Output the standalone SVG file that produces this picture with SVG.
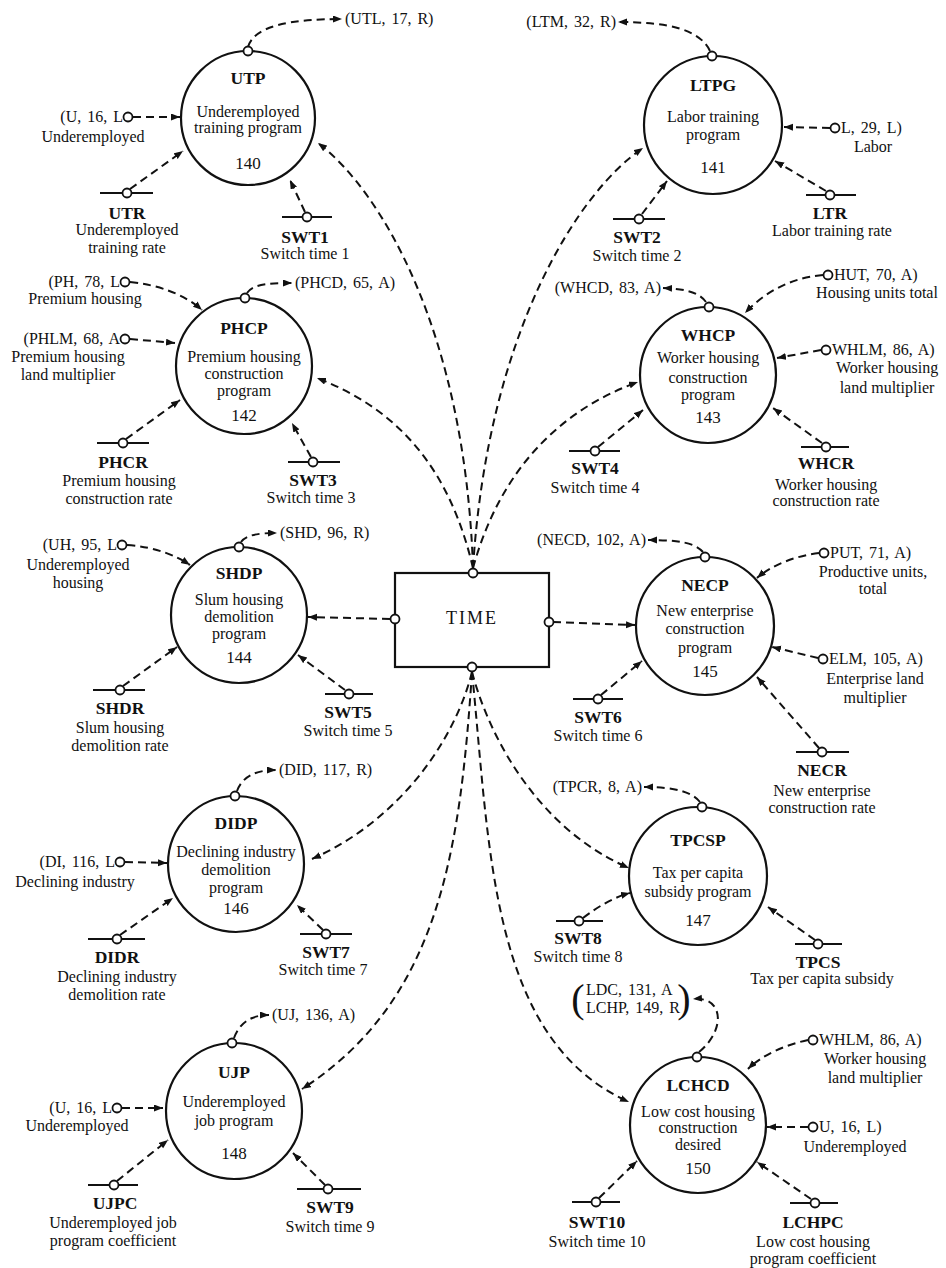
<svg xmlns="http://www.w3.org/2000/svg" width="946" height="1268" viewBox="0 0 946 1268">
<style>
.c{fill:#fff;stroke:#111;stroke-width:2.2}
.p{fill:#fff;stroke:#111;stroke-width:1.8}
.bar{stroke:#111;stroke-width:2}
.d{fill:none;stroke:#111;stroke-width:2;stroke-dasharray:8 5;marker-end:url(#ah)}
.dn{fill:none;stroke:#111;stroke-width:2;stroke-dasharray:8 5}
text{font-family:"Liberation Serif","Times New Roman",serif;fill:#111;text-anchor:middle}
.nm{font-size:17.5px;font-weight:bold}
.ds{font-size:16px}
.num{font-size:17px}
.lb{font-size:16px;word-spacing:2px}
.s{text-anchor:start}
.e{text-anchor:end}
</style>
<defs>
<marker id="ah" markerWidth="10" markerHeight="8" refX="9" refY="3.5" orient="auto" markerUnits="userSpaceOnUse">
<path d="M0,0 L9,3.5 L0,7 z" fill="#111"/>
</marker>
</defs>
<rect width="946" height="1268" fill="#fff"/>

<g id="connectors">
<!-- UTP -->
<path class="d" d="M248,47 C254,26 290,19 342,19"/>
<path class="d" d="M133,117 L180,117"/>
<path class="d" d="M130,189 L183,151"/>
<path class="d" d="M305,212 L290,180"/>
<path class="d" d="M473,568 C465,330 380,190 318,143"/>
<!-- LTPG -->
<path class="d" d="M710,51 C700,30 670,22 618,22"/>
<path class="d" d="M830,128 L784,127"/>
<path class="d" d="M826,191 L775,161"/>
<path class="d" d="M642,214 L667,181"/>
<path class="d" d="M473,568 C488,330 580,190 643,148"/>
<!-- PHCP -->
<path class="d" d="M247,293 C252,285 265,283 292,283"/>
<path class="d" d="M130,282 C160,285 185,295 202,310"/>
<path class="d" d="M130,339 L175,343"/>
<path class="d" d="M126,439 L180,400"/>
<path class="d" d="M311,457 L292,423"/>
<path class="d" d="M473,568 C450,470 400,410 317,378"/>
<!-- WHCP -->
<path class="d" d="M706,302 C700,294 690,289 663,288"/>
<path class="d" d="M823,275 C790,278 765,292 745,313"/>
<path class="d" d="M821,350 L777,358"/>
<path class="d" d="M822,443 L773,408"/>
<path class="d" d="M598,447 L643,410"/>
<path class="d" d="M473,568 C500,470 560,410 638,382"/>
<!-- SHDP -->
<path class="d" d="M241,542 C246,535 258,533 277,533"/>
<path class="d" d="M127,545 C155,547 175,555 190,565"/>
<path class="d" d="M390,619 L308,617"/>
<path class="d" d="M123,686 L177,647"/>
<path class="d" d="M345,690 L298,655"/>
<!-- NECP -->
<path class="d" d="M703,552 C695,543 680,540 648,540"/>
<path class="d" d="M553,622 L635,625"/>
<path class="d" d="M819,553 C795,556 772,565 757,578"/>
<path class="d" d="M818,658 L772,647"/>
<path class="d" d="M819,748 L757,677"/>
<path class="d" d="M601,695 L642,661"/>
<!-- DIDP -->
<path class="d" d="M237,791 C243,775 258,770 276,770"/>
<path class="d" d="M125,862 L167,863"/>
<path class="d" d="M472,672 C455,740 400,820 312,859"/>
<path class="d" d="M120,935 L173,898"/>
<path class="d" d="M323,930 L297,905"/>
<!-- TPCSP -->
<path class="d" d="M700,802 C692,792 675,787 644,787"/>
<path class="d" d="M472,672 C490,740 540,830 629,868"/>
<path class="d" d="M583,918 C600,905 615,897 630,893"/>
<path class="d" d="M815,940 L768,907"/>
<!-- UJP -->
<path class="d" d="M234,1038 C240,1022 252,1015 269,1015"/>
<path class="d" d="M122,1108 L163,1108"/>
<path class="d" d="M472,672 C460,850 440,1000 302,1089"/>
<path class="d" d="M117,1181 L168,1140"/>
<path class="d" d="M325,1185 L293,1153"/>
<!-- LCHCD -->
<path class="d" d="M699,1052 C726,1030 724,996 693,999"/>
<path class="d" d="M808,1040 C785,1045 762,1055 748,1069"/>
<path class="d" d="M472,672 C490,850 490,1040 629,1102"/>
<path class="d" d="M808,1127 L767,1127"/>
<path class="d" d="M599,1198 L637,1161"/>
<path class="d" d="M811,1199 L757,1162"/>
</g>

<g id="TIME">
<rect x="395" y="573" width="154" height="94" fill="#fff" stroke="#111" stroke-width="2.2"/>
<text x="472" y="624" style="font-size:18px;letter-spacing:2px">TIME</text>
<circle class="p" cx="473" cy="573" r="4.5"/>
<circle class="p" cx="472" cy="667" r="4.5"/>
<circle class="p" cx="395" cy="619" r="4.5"/>
<circle class="p" cx="549" cy="622" r="4.5"/>
</g>

<g id="UTP">
<circle class="c" cx="248" cy="118" r="67"/>
<circle class="p" cx="248" cy="51" r="4.5"/>
<text class="nm" x="248" y="84">UTP</text>
<text class="ds" x="248" y="117">Underemployed</text>
<text class="ds" x="248" y="133">training program</text>
<text class="num" x="248" y="169">140</text>
</g>
<g id="UTP-inputs">
<text class="lb s" x="345" y="24">(UTL, 17, R)</text>
<circle class="p" cx="128" cy="117" r="4.5"/>
<text class="lb e" x="123" y="122">(U, 16, L</text>
<text class="ds" x="93" y="142">Underemployed</text>
</g>
<g id="UTR">
<line class="bar" x1="100" y1="193" x2="153" y2="193"/>
<circle class="p" cx="127" cy="193" r="4.5"/>
<text class="nm" x="127" y="219">UTR</text>
<text class="ds" x="127" y="235">Underemployed</text>
<text class="ds" x="127" y="253">training rate</text>
</g>
<g id="SWT1">
<line class="bar" x1="282" y1="217" x2="332" y2="217"/>
<circle class="p" cx="307" cy="217" r="4.5"/>
<text class="nm" x="305" y="243">SWT1</text>
<text class="ds" x="305" y="259">Switch time 1</text>
</g>

<g id="LTPG">
<circle class="c" cx="713" cy="125" r="69"/>
<circle class="p" cx="712" cy="56" r="4.5"/>
<text class="nm" x="713" y="91">LTPG</text>
<text class="ds" x="713" y="122">Labor training</text>
<text class="ds" x="713" y="140">program</text>
<text class="num" x="713" y="173">141</text>
</g>
<g id="LTPG-inputs">
<text class="lb e" x="616" y="27">(LTM, 32, R)</text>
<circle class="p" cx="835" cy="128" r="4.5"/>
<text class="lb s" x="841" y="133">L, 29, L)</text>
<text class="ds" x="873" y="152">Labor</text>
</g>
<g id="LTR">
<line class="bar" x1="806" y1="195" x2="856" y2="195"/>
<circle class="p" cx="830" cy="195" r="4.5"/>
<text class="nm" x="830" y="219">LTR</text>
<text class="ds" x="832" y="236">Labor training rate</text>
</g>
<g id="SWT2">
<line class="bar" x1="613" y1="219" x2="665" y2="219"/>
<circle class="p" cx="639" cy="219" r="4.5"/>
<text class="nm" x="637" y="243">SWT2</text>
<text class="ds" x="637" y="261">Switch time 2</text>
</g>

<g id="PHCP">
<circle class="c" cx="244" cy="366" r="68"/>
<circle class="p" cx="245" cy="298" r="4.5"/>
<text class="nm" x="244" y="334">PHCP</text>
<text class="ds" x="244" y="362">Premium housing</text>
<text class="ds" x="244" y="379">construction</text>
<text class="ds" x="244" y="396">program</text>
<text class="num" x="244" y="421">142</text>
</g>
<g id="PHCP-inputs">
<text class="lb s" x="295" y="288">(PHCD, 65, A)</text>
<circle class="p" cx="125" cy="282" r="4.5"/>
<text class="lb e" x="120" y="287">(PH, 78, L</text>
<text class="ds" x="85" y="304">Premium housing</text>
<circle class="p" cx="125" cy="339" r="4.5"/>
<text class="lb e" x="120" y="344">(PHLM, 68, A</text>
<text class="ds" x="68" y="362">Premium housing</text>
<text class="ds" x="68" y="380">land multiplier</text>
</g>
<g id="PHCR">
<line class="bar" x1="97" y1="443" x2="149" y2="443"/>
<circle class="p" cx="123" cy="443" r="4.5"/>
<text class="nm" x="123" y="468">PHCR</text>
<text class="ds" x="119" y="486">Premium housing</text>
<text class="ds" x="119" y="504">construction rate</text>
</g>
<g id="SWT3">
<line class="bar" x1="288" y1="462" x2="340" y2="462"/>
<circle class="p" cx="313" cy="462" r="4.5"/>
<text class="nm" x="313" y="486">SWT3</text>
<text class="ds" x="311" y="503">Switch time 3</text>
</g>

<g id="WHCP">
<circle class="c" cx="708" cy="375" r="68"/>
<circle class="p" cx="709" cy="307" r="4.5"/>
<text class="nm" x="708" y="341">WHCP</text>
<text class="ds" x="708" y="363">Worker housing</text>
<text class="ds" x="708" y="383">construction</text>
<text class="ds" x="708" y="400">program</text>
<text class="num" x="708" y="423">143</text>
</g>
<g id="WHCP-inputs">
<text class="lb e" x="661" y="293">(WHCD, 83, A)</text>
<circle class="p" cx="828" cy="275" r="4.5"/>
<text class="lb s" x="834" y="280">HUT, 70, A)</text>
<text class="ds" x="877" y="298">Housing units total</text>
<circle class="p" cx="826" cy="350" r="4.5"/>
<text class="lb s" x="832" y="355">WHLM, 86, A)</text>
<text class="ds" x="887" y="373">Worker housing</text>
<text class="ds" x="887" y="393">land multiplier</text>
</g>
<g id="WHCR">
<line class="bar" x1="801" y1="447" x2="849" y2="447"/>
<circle class="p" cx="826" cy="447" r="4.5"/>
<text class="nm" x="826" y="469">WHCR</text>
<text class="ds" x="826" y="490">Worker housing</text>
<text class="ds" x="826" y="506">construction rate</text>
</g>
<g id="SWT4">
<line class="bar" x1="569" y1="451" x2="620" y2="451"/>
<circle class="p" cx="595" cy="451" r="4.5"/>
<text class="nm" x="595" y="474">SWT4</text>
<text class="ds" x="595" y="493">Switch time 4</text>
</g>

<g id="SHDP">
<circle class="c" cx="239" cy="615" r="68"/>
<circle class="p" cx="239" cy="547" r="4.5"/>
<text class="nm" x="239" y="579">SHDP</text>
<text class="ds" x="239" y="605">Slum housing</text>
<text class="ds" x="239" y="622">demolition</text>
<text class="ds" x="239" y="639">program</text>
<text class="num" x="239" y="663">144</text>
</g>
<g id="SHDP-inputs">
<text class="lb s" x="280" y="538">(SHD, 96, R)</text>
<circle class="p" cx="122" cy="545" r="4.5"/>
<text class="lb e" x="117" y="550">(UH, 95, L</text>
<text class="ds" x="78" y="570">Underemployed</text>
<text class="ds" x="78" y="588">housing</text>
</g>
<g id="SHDR">
<line class="bar" x1="93" y1="690" x2="145" y2="690"/>
<circle class="p" cx="120" cy="690" r="4.5"/>
<text class="nm" x="120" y="714">SHDR</text>
<text class="ds" x="120" y="733">Slum housing</text>
<text class="ds" x="120" y="751">demolition rate</text>
</g>
<g id="SWT5">
<line class="bar" x1="325" y1="694" x2="373" y2="694"/>
<circle class="p" cx="349" cy="694" r="4.5"/>
<text class="nm" x="348" y="718">SWT5</text>
<text class="ds" x="348" y="736">Switch time 5</text>
</g>

<g id="NECP">
<circle class="c" cx="705" cy="626" r="69"/>
<circle class="p" cx="705" cy="557" r="4.5"/>
<text class="nm" x="705" y="591">NECP</text>
<text class="ds" x="705" y="616">New enterprise</text>
<text class="ds" x="705" y="634">construction</text>
<text class="ds" x="705" y="653">program</text>
<text class="num" x="705" y="677">145</text>
</g>
<g id="NECP-inputs">
<text class="lb e" x="646" y="545">(NECD, 102, A)</text>
<circle class="p" cx="824" cy="553" r="4.5"/>
<text class="lb s" x="830" y="558">PUT, 71, A)</text>
<text class="ds" x="873" y="577">Productive units,</text>
<text class="ds" x="873" y="594">total</text>
<circle class="p" cx="823" cy="659" r="4.5"/>
<text class="lb s" x="829" y="664">ELM, 105, A)</text>
<text class="ds" x="875" y="684">Enterprise land</text>
<text class="ds" x="875" y="703">multiplier</text>
</g>
<g id="NECR">
<line class="bar" x1="796" y1="752" x2="849" y2="752"/>
<circle class="p" cx="822" cy="752" r="4.5"/>
<text class="nm" x="822" y="776">NECR</text>
<text class="ds" x="822" y="796">New enterprise</text>
<text class="ds" x="822" y="813">construction rate</text>
</g>
<g id="SWT6">
<line class="bar" x1="573" y1="699" x2="623" y2="699"/>
<circle class="p" cx="598" cy="699" r="4.5"/>
<text class="nm" x="598" y="723">SWT6</text>
<text class="ds" x="598" y="741">Switch time 6</text>
</g>

<g id="DIDP">
<circle class="c" cx="236" cy="864" r="68"/>
<circle class="p" cx="235" cy="796" r="4.5"/>
<text class="nm" x="236" y="829">DIDP</text>
<text class="ds" x="236" y="857">Declining industry</text>
<text class="ds" x="236" y="875">demolition</text>
<text class="ds" x="236" y="893">program</text>
<text class="num" x="236" y="914">146</text>
</g>
<g id="DIDP-inputs">
<text class="lb s" x="279" y="775">(DID, 117, R)</text>
<circle class="p" cx="120" cy="862" r="4.5"/>
<text class="lb e" x="115" y="867">(DI, 116, L</text>
<text class="ds" x="75" y="887">Declining industry</text>
</g>
<g id="DIDR">
<line class="bar" x1="88" y1="939" x2="145" y2="939"/>
<circle class="p" cx="117" cy="939" r="4.5"/>
<text class="nm" x="117" y="963">DIDR</text>
<text class="ds" x="117" y="982">Declining industry</text>
<text class="ds" x="117" y="1000">demolition rate</text>
</g>
<g id="SWT7">
<line class="bar" x1="300" y1="934" x2="352" y2="934"/>
<circle class="p" cx="326" cy="934" r="4.5"/>
<text class="nm" x="326" y="958">SWT7</text>
<text class="ds" x="323" y="975">Switch time 7</text>
</g>

<g id="TPCSP">
<circle class="c" cx="698" cy="876" r="69"/>
<circle class="p" cx="702" cy="807" r="4.5"/>
<text class="nm" x="698" y="846">TPCSP</text>
<text class="ds" x="698" y="878">Tax per capita</text>
<text class="ds" x="698" y="897">subsidy program</text>
<text class="num" x="698" y="926">147</text>
</g>
<g id="TPCSP-inputs">
<text class="lb e" x="642" y="792">(TPCR, 8, A)</text>
</g>
<g id="SWT8">
<line class="bar" x1="556" y1="921" x2="603" y2="921"/>
<circle class="p" cx="579" cy="921" r="4.5"/>
<text class="nm" x="578" y="944">SWT8</text>
<text class="ds" x="578" y="962">Switch time 8</text>
</g>
<g id="TPCS">
<line class="bar" x1="795" y1="944" x2="842" y2="944"/>
<circle class="p" cx="818" cy="944" r="4.5"/>
<text class="nm" x="818" y="968">TPCS</text>
<text class="ds" x="822" y="984">Tax per capita subsidy</text>
</g>

<g id="UJP">
<circle class="c" cx="234" cy="1111" r="68"/>
<circle class="p" cx="232" cy="1043" r="4.5"/>
<text class="nm" x="234" y="1078">UJP</text>
<text class="ds" x="234" y="1107">Underemployed</text>
<text class="ds" x="234" y="1126">job program</text>
<text class="num" x="234" y="1159">148</text>
</g>
<g id="UJP-inputs">
<text class="lb s" x="272" y="1020">(UJ, 136, A)</text>
<circle class="p" cx="117" cy="1108" r="4.5"/>
<text class="lb e" x="112" y="1113">(U, 16, L</text>
<text class="ds" x="77" y="1131">Underemployed</text>
</g>
<g id="UJPC">
<line class="bar" x1="88" y1="1185" x2="138" y2="1185"/>
<circle class="p" cx="114" cy="1185" r="4.5"/>
<text class="nm" x="115" y="1209">UJPC</text>
<text class="ds" x="113" y="1228">Underemployed job</text>
<text class="ds" x="113" y="1246">program coefficient</text>
</g>
<g id="SWT9">
<line class="bar" x1="297" y1="1189" x2="361" y2="1189"/>
<circle class="p" cx="328" cy="1189" r="4.5"/>
<text class="nm" x="330" y="1213">SWT9</text>
<text class="ds" x="330" y="1232">Switch time 9</text>
</g>

<g id="LCHCD">
<circle class="c" cx="698" cy="1125" r="68"/>
<circle class="p" cx="697" cy="1057" r="4.5"/>
<text class="nm" x="698" y="1091">LCHCD</text>
<text class="ds" x="698" y="1117">Low cost housing</text>
<text class="ds" x="698" y="1133">construction</text>
<text class="ds" x="698" y="1150">desired</text>
<text class="num" x="698" y="1174">150</text>
</g>
<g id="LCHCD-inputs">
<text x="578" y="1012" style="font-size:40px">(</text>
<text x="684" y="1012" style="font-size:40px">)</text>
<text class="lb s" x="586" y="995">LDC, 131, A</text>
<text class="lb s" x="586" y="1013">LCHP, 149, R</text>
<circle class="p" cx="813" cy="1040" r="4.5"/>
<text class="lb s" x="819" y="1045">WHLM, 86, A)</text>
<text class="ds" x="875" y="1064">Worker housing</text>
<text class="ds" x="875" y="1083">land multiplier</text>
<circle class="p" cx="813" cy="1127" r="4.5"/>
<text class="lb s" x="819" y="1132">U, 16, L)</text>
<text class="ds" x="855" y="1152">Underemployed</text>
</g>
<g id="SWT10">
<line class="bar" x1="572" y1="1202" x2="620" y2="1202"/>
<circle class="p" cx="596" cy="1202" r="4.5"/>
<text class="nm" x="597" y="1228">SWT10</text>
<text class="ds" x="597" y="1247">Switch time 10</text>
</g>
<g id="LCHPC">
<line class="bar" x1="790" y1="1203" x2="838" y2="1203"/>
<circle class="p" cx="815" cy="1203" r="4.5"/>
<text class="nm" x="813" y="1228">LCHPC</text>
<text class="ds" x="813" y="1247">Low cost housing</text>
<text class="ds" x="813" y="1264">program coefficient</text>
</g>
</svg>
